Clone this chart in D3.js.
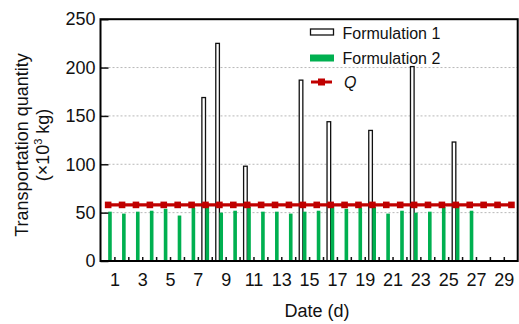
<!DOCTYPE html>
<html>
<head>
<meta charset="utf-8">
<script src="https://cdn.jsdelivr.net/npm/d3@7"></script>
<style>
body { margin: 0; background: #fff; }
text { font-family: "Liberation Sans", Arial, Helvetica, sans-serif; fill: #111; }
</style>
</head>
<body>
<div id="box"></div>
<script>
// days on the x axis
var days = [1, 2, 3, 4, 5, 6, 7, 8, 9, 10, 11, 12, 13, 14, 15,
            16, 17, 18, 19, 20, 21, 22, 23, 24, 25, 26, 27, 28, 29, 30];

// formulation 1: only a few large deliveries
var f1_days = [8, 9, 11, 15, 17, 20, 23, 26];
var f1_values = [169, 225, 98, 187, 144, 135, 201, 123];

// formulation 2: day 1 .. 27
var f2_values = [51, 49, 51, 52, 54, 47, 55, 57, 50, 52, 56, 51, 51, 49,
                 51, 52, 57, 54, 55, 56, 49, 52, 50, 51, 56, 57, 52];

// Q line, one point per day
var q_values = [58, 58, 58, 58, 58, 58, 58, 58, 58, 58, 58, 58, 58, 58, 58,
                58, 58, 58, 58, 58, 58, 58, 58, 58, 58, 58, 58, 58, 58, 58];

// axis ticks
var x_ticks = [1, 2, 3, 4, 5, 6, 7, 8, 9, 10, 11, 12, 13, 14, 15,
               16, 17, 18, 19, 20, 21, 22, 23, 24, 25, 26, 27, 28, 29];
var x_tick_labels = [1, 3, 5, 7, 9, 11, 13, 15, 17, 19, 21, 23, 25, 27, 29];
var y_ticks = [0, 50, 100, 150, 200, 250];
var y_grid = [50, 100, 150, 200];

var fig = {
    width: 519,
    height: 324,
    margin: {top: 19.2, right: 1.3, bottom: 63, left: 100.5},

    // groups sit a bit left of each day tick
    group_offset: -0.45,
    bar_shift: 0.13,
    bar_width: 0.26,

    green: '#00b050',
    red: '#c00000',

    svg: null,
    x: null,
    y: null,

    init: function() {
        this.svg = d3.select('#box')
            .append('svg')
            .attr('width', this.width)
            .attr('height', this.height);

        this.x = d3.scaleLinear()
            .domain([0, 30])
            .range([this.margin.left, this.width - this.margin.right]);
        this.y = d3.scaleLinear()
            .domain([0, 250])
            .range([this.height - this.margin.bottom, this.margin.top]);
    },

    draw: function() {
        this._draw_grid();
        this._draw_bars();
        this._draw_axes();
        this._draw_q();
        this._draw_legend();
        this._draw_titles();
    },

    _draw_grid: function() {
        var x = this.x, y = this.y;
        this.svg.append('g')
            .selectAll('line')
            .data(y_grid)
            .enter()
            .append('line')
            .attr('x1', x(0))
            .attr('x2', x(30))
            .attr('y1', d => y(d))
            .attr('y2', d => y(d))
            .attr('stroke', '#b8b8b8')
            .attr('stroke-width', 1)
            .attr('stroke-dasharray', '2,2');
    },

    _draw_bars: function() {
        var x = this.x, y = this.y, fig = this;
        var bw = x(this.bar_width) - x(0);

        // formulation 1, open bars
        this.svg.append('g')
            .selectAll('rect')
            .data(f1_days)
            .enter()
            .append('rect')
            .attr('x', d => x(d + fig.group_offset - fig.bar_shift) - bw / 2)
            .attr('y', (d, i) => y(f1_values[i]))
            .attr('width', bw)
            .attr('height', (d, i) => y(0) - y(f1_values[i]))
            .attr('fill', '#fff')
            .attr('stroke', '#111')
            .attr('stroke-width', 1.3);

        // formulation 2, green bars
        this.svg.append('g')
            .selectAll('rect')
            .data(f2_values)
            .enter()
            .append('rect')
            .attr('x', (d, i) => x(days[i] + fig.group_offset + fig.bar_shift) - bw / 2)
            .attr('y', d => y(d))
            .attr('width', bw)
            .attr('height', d => y(0) - y(d))
            .attr('fill', this.green);
    },

    _draw_axes: function() {
        var x = this.x, y = this.y;
        var x0 = x(0), x1 = x(30), y0 = y(0), y1 = y(250);

        var yaxis = this.svg.append('g')
            .attr('transform', 'translate(' + x0 + ',0)')
            .call(d3.axisLeft(y).tickValues(y_ticks).tickSize(-8).tickPadding(5));
        yaxis.select('.domain').remove();
        yaxis.selectAll('.tick line').attr('stroke', '#111').attr('stroke-width', 1.5);
        yaxis.selectAll('text')
            .attr('font-size', 18)
            .attr('font-family', '"Liberation Sans", Arial, sans-serif')
            .attr('fill', '#111');

        var xaxis = this.svg.append('g')
            .attr('transform', 'translate(0,' + y0 + ')')
            .call(d3.axisBottom(x).tickValues(x_ticks).tickSize(-4).tickPadding(12)
                .tickFormat(d => x_tick_labels.indexOf(d) >= 0 ? d : ''));
        xaxis.select('.domain').remove();
        xaxis.selectAll('.tick line').attr('stroke', '#111').attr('stroke-width', 1.5);
        xaxis.selectAll('text')
            .attr('font-size', 18)
            .attr('font-family', '"Liberation Sans", Arial, sans-serif')
            .attr('fill', '#111');

        // frame round the plot
        this.svg.append('rect')
            .attr('x', x0)
            .attr('y', y1)
            .attr('width', x1 - x0)
            .attr('height', y0 - y1)
            .attr('fill', 'none')
            .attr('stroke', '#000')
            .attr('stroke-width', 2);
    },

    _draw_q: function() {
        var x = this.x, y = this.y, fig = this;
        var line = d3.line()
            .x((d, i) => x(days[i] + fig.group_offset))
            .y(d => y(d));

        this.svg.append('path')
            .datum(q_values)
            .attr('d', line)
            .attr('fill', 'none')
            .attr('stroke', this.red)
            .attr('stroke-width', 3.2);

        this.svg.append('g')
            .selectAll('rect')
            .data(q_values)
            .enter()
            .append('rect')
            .attr('x', (d, i) => x(days[i] + fig.group_offset) - 3.3)
            .attr('y', d => y(d) - 3.3)
            .attr('width', 6.6)
            .attr('height', 6.6)
            .attr('fill', this.red);
    },

    _draw_legend: function() {
        var g = this.svg.append('g');

        g.append('rect')
            .attr('x', 310.5).attr('y', 29)
            .attr('width', 23).attr('height', 6)
            .attr('fill', '#fff')
            .attr('stroke', '#111')
            .attr('stroke-width', 1.3);
        g.append('rect')
            .attr('x', 310).attr('y', 54.5)
            .attr('width', 24).attr('height', 7)
            .attr('fill', this.green);
        g.append('line')
            .attr('x1', 311).attr('x2', 332)
            .attr('y1', 82).attr('y2', 82)
            .attr('stroke', this.red)
            .attr('stroke-width', 3);
        g.append('rect')
            .attr('x', 318).attr('y', 78.5)
            .attr('width', 7).attr('height', 7)
            .attr('fill', this.red);

        var labels = [
            {text: 'Formulation 1', x: 342.5, y: 39, italic: false},
            {text: 'Formulation 2', x: 342.5, y: 63.5, italic: false},
            {text: 'Q', x: 344, y: 87.5, italic: true}
        ];
        g.selectAll('text')
            .data(labels)
            .enter()
            .append('text')
            .attr('x', d => d.x)
            .attr('y', d => d.y)
            .attr('font-size', 16)
            .attr('font-style', d => d.italic ? 'italic' : 'normal')
            .text(d => d.text);
    },

    _draw_titles: function() {
        this.svg.append('text')
            .attr('x', 317)
            .attr('y', 317)
            .attr('text-anchor', 'middle')
            .attr('font-size', 18)
            .text('Date (d)');

        var yt = this.svg.append('text')
            .attr('transform', 'translate(28,145) rotate(-90)')
            .attr('text-anchor', 'middle')
            .attr('font-size', 18);
        yt.append('tspan')
            .attr('x', 0)
            .attr('dy', 0)
            .text('Transportation quantity');
        var l2 = yt.append('tspan')
            .attr('x', 0)
            .attr('dy', 20.5);
        l2.append('tspan').text('(\u00d710');
        l2.append('tspan')
            .attr('font-size', 11)
            .attr('dy', -7)
            .text('3');
        l2.append('tspan')
            .attr('dy', 7)
            .text(' kg)');
    }
};

fig.init();
fig.draw();
</script>
</body>
</html>
